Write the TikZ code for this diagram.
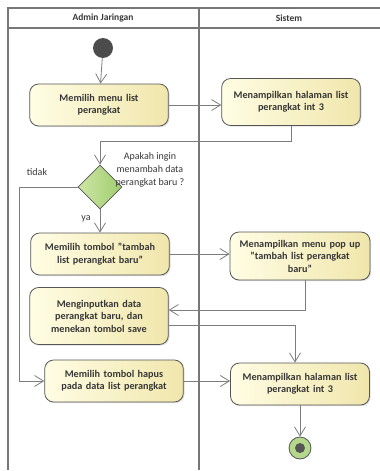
\documentclass[tikz,border=0pt]{standalone}
\usepackage{fontspec}
\setmainfont{Carlito}
\usetikzlibrary{arrows.meta,shapes.geometric,shadows}
\definecolor{kuningmuda}{RGB}{255,253,228}
\definecolor{kuningtua}{RGB}{240,230,172}
\definecolor{hijaumuda}{RGB}{205,230,165}
\definecolor{hijautua}{RGB}{160,205,110}
\definecolor{garis}{RGB}{125,125,125}
\definecolor{tepi}{RGB}{85,85,85}
\definecolor{teks}{RGB}{55,55,55}
\begin{document}
\begin{tikzpicture}[
                x=1pt, y=-1pt,
                aksi/.style={shape=rectangle, rounded corners=9pt, draw=tepi, line width=0.8pt,
                    left color=kuningmuda, right color=kuningtua, minimum width=138pt, minimum height=42pt,
                    text width=132pt, align=center, text=teks, font=\fontsize{10.2}{12.5}\selectfont\bfseries,
                    drop shadow={shadow xshift=1.2pt, shadow yshift=-1.2pt, opacity=0.25}},
                keputusan/.style={shape=diamond, draw=tepi, line width=0.8pt, left color=hijaumuda,
                    right color=hijautua, minimum width=44pt, minimum height=44pt, inner sep=0pt},
                mulai/.style={shape=circle, fill=tepi!90!black, minimum size=20pt, inner sep=0pt},
                selesai/.style={shape=circle, draw=tepi, line width=0.8pt, fill=hijautua!80!white,
                    minimum size=22pt, inner sep=0pt,
                    path picture={\fill[tepi] (path picture bounding box.center) circle (5pt);}},
                panah/.style={draw=garis, line width=0.8pt, -{Straight Barb[length=9pt, width=11pt]}},
                bingkai/.style={draw=tepi!80, line width=1.1pt},
                judul/.style={text=teks, font=\fontsize{9.5}{11}\selectfont\bfseries},
                catatan/.style={text=teks, align=center, font=\fontsize{10}{13}\selectfont},
            ]
            \useasboundingbox (0,0) rectangle (380,471);
            % lajur
            \draw[bingkai] (8,470) -- (8,8) -- (380,8);
            \draw[bingkai] (8,28) -- (380,28);
            \draw[bingkai] (199,8) -- (199,470);
            \node[judul] (lajuradmin) at (103,18) {Admin Jaringan};
            \node[judul] (lajursistem) at (289,18) {Sistem};
            % aktivitas
            \node[mulai] (awal) at (103,48) {};
            \node[aksi] (pilihmenu) at (99,105) {Memilih menu list\\perangkat};
            \node[aksi, minimum height=47pt] (tampilhal) at (291,102) {Menampilkan halaman list\\perangkat int 3};
            \node[keputusan] (tanya) at (100,187) {};
            \node[catatan] (lbltanya) at (150,170) {Apakah ingin\\menambah data\\perangkat baru ?};
            \node[catatan] (lbltidak) at (37,172) {tidak};
            \node[catatan] (lblya) at (86,219) {ya};
            \node[aksi, minimum width=136pt] (pilihtambah) at (100,254) {Memilih tombol "tambah\\list perangkat baru"};
            \node[aksi, minimum width=140pt, minimum height=48pt] (tampilpopup) at (300,256) {Menampilkan menu pop up\\"tambah list perangkat\\baru"};
            \node[aksi, minimum height=57pt] (isidata) at (99,316) {Menginputkan data\\perangkat baru, dan\\menekan tombol save};
            \node[aksi] (pilihhapus) at (114,381) {Memilih tombol hapus\\pada data list perangkat};
            \node[aksi, minimum width=139pt] (tampilhal2) at (300,384) {Menampilkan halaman list\\perangkat int 3};
            \node[selesai] (akhir) at (300,448) {};
            % alur
            \draw[panah] (awal) -- (pilihmenu);
            \draw[panah] (pilihmenu.east) -- (pilihmenu.east -| tampilhal.west);
            \draw[panah] (tampilhal.south) -- ++(0,15) -| (tanya.north);
            \draw[panah] (tanya.south) -- (pilihtambah.north);
            \draw[panah] (tanya.west) -- ++(-58,0) |- (pilihhapus.west);
            \draw[panah] (pilihtambah.east) -- (pilihtambah.east -| tampilpopup.west);
            \draw[panah] ([xshift=5pt]tampilpopup.south) |- ([yshift=6pt]isidata.east);
            \draw[panah] ([yshift=-9pt]isidata.east) -| ([xshift=-5pt]tampilhal2.north);
            \draw[panah] (pilihhapus.east) -- (pilihhapus.east -| tampilhal2.west);
            \draw[panah] (tampilhal2.south) -- (akhir);
        \end{tikzpicture}
\end{document}
